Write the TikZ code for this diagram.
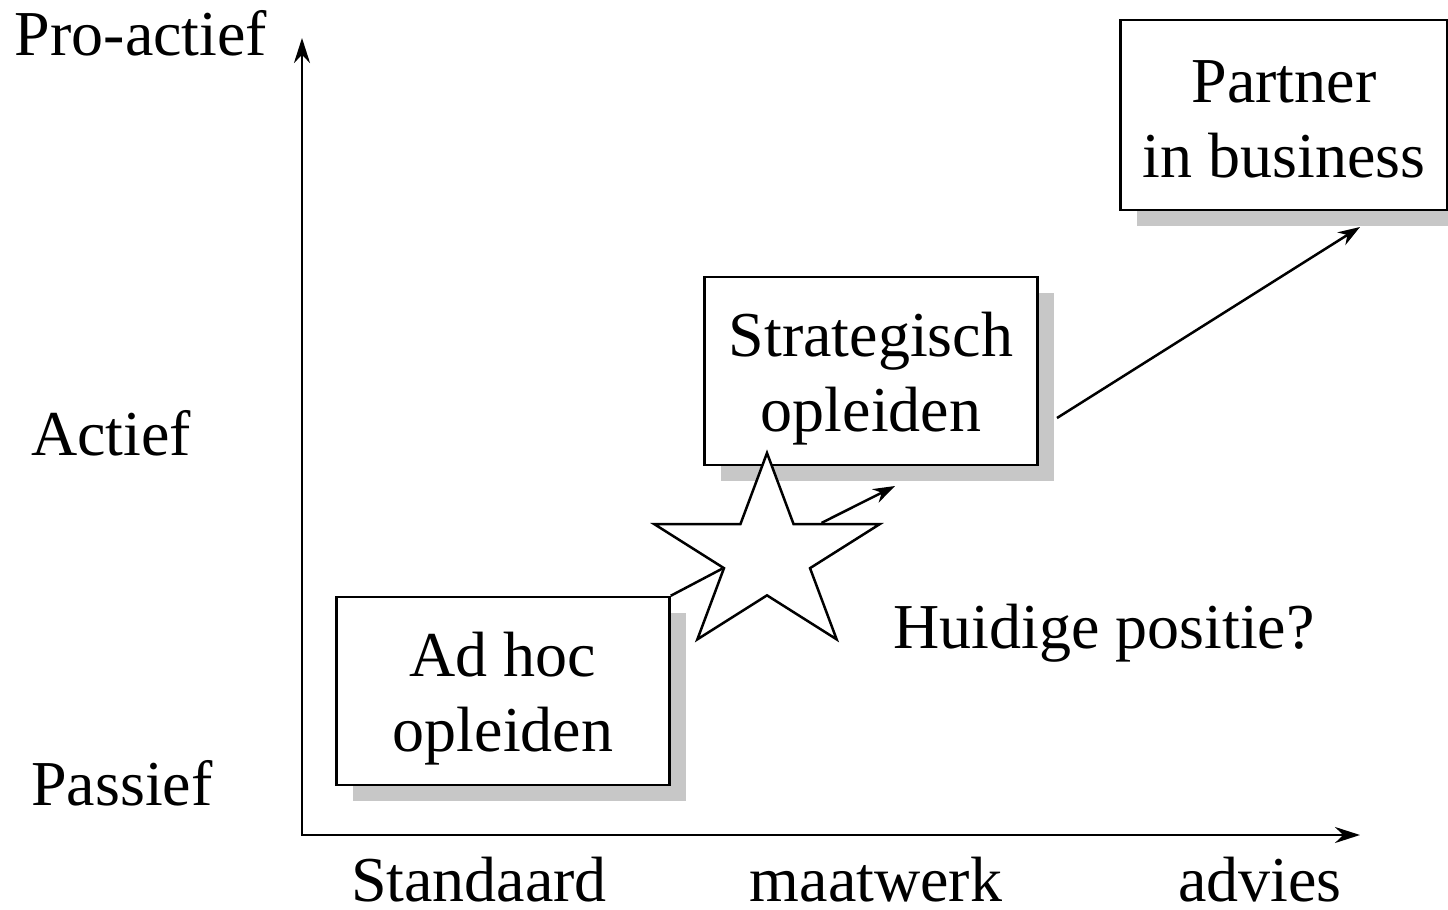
\documentclass[tikz,border=0pt]{standalone}
\usepackage{fontspec}
\setmainfont{Liberation Serif}
\usetikzlibrary{positioning}
\usetikzlibrary{shapes.geometric,shadows,arrows.meta,calc}

\newcommand{\topstrut}[1][60pt]{\rule{0pt}{#1}}

\begin{document}
\begin{tikzpicture}[
		x=1pt,y=-1pt,
		font=\fontsize{64}{75}\selectfont,
		lbl/.style={anchor=base, inner sep=0pt},
		stage/.style={draw, line width=2.5pt, fill=white, align=center, inner sep=0pt,
			minimum width=333pt, minimum height=188pt,
			drop shadow={shadow xshift=16pt, shadow yshift=-16pt, fill=black!22, opacity=1}},
		spot/.style={draw, star, star points=5, star point ratio=2.618, minimum size=206pt,
			inner sep=0pt, line width=2.5pt, fill=white, transform shape},
		axis/.style={line width=2.5pt, {Stealth[length=25pt,width=16pt]}-{Stealth[length=25pt,width=16pt]}},
		conn/.style={line width=2.5pt, -{Stealth[length=22pt,width=15pt]}}
	]
		\useasboundingbox (0,0) rectangle (1448,910);

		% axes
		\coordinate (o) at (302,835);
		\coordinate (ytop) at (302,38);
		\coordinate (xend) at (1360,835);
		\draw[axis] (ytop) -- (o) -- (xend);

		\node[lbl] (proactief) at (141,55) {Pro-actief};
		\node[lbl] (actief) at (111,455) {Actief};
		\node[lbl] (passief) at (122,805) {Passief};
		\node[lbl] (standaard) at (479,901) {Standaard};
		\node[lbl] (maatwerk) at (876,901) {maatwerk};
		\node[lbl] (advies) at (1260,901) {advies};

		% stages
		\node[stage] (adhoc) at (503,691) {\topstrut Ad hoc\\opleiden};
		\node[stage] (strat) at (871,371) {\topstrut Strategisch\\opleiden};
		\node[stage, minimum width=327pt, minimum height=190pt] (partner) at (1284,115) {\topstrut[50pt]Partner\\in business};

		\begin{scope}[shift={(767,556)}, xscale=1.15]
			\node[spot] (now) at (0,0) {};
		\end{scope}
		\node[lbl] (huidig) at (1104,648) {Huidige positie?};

		% route
		\draw[line width=2.5pt] (adhoc.north east) -- (now.inner point 2);
		\coordinate (s1) at ($(now.inner point 5)!0.3!(now.outer point 5)$);
		\coordinate (t1) at (895,486);
		\draw[conn] (s1) -- (t1);
		\coordinate (s2) at (1057,418);
		\coordinate (t2) at (1360,227);
		\draw[conn] (s2) -- (t2);
	\end{tikzpicture}
\end{document}
